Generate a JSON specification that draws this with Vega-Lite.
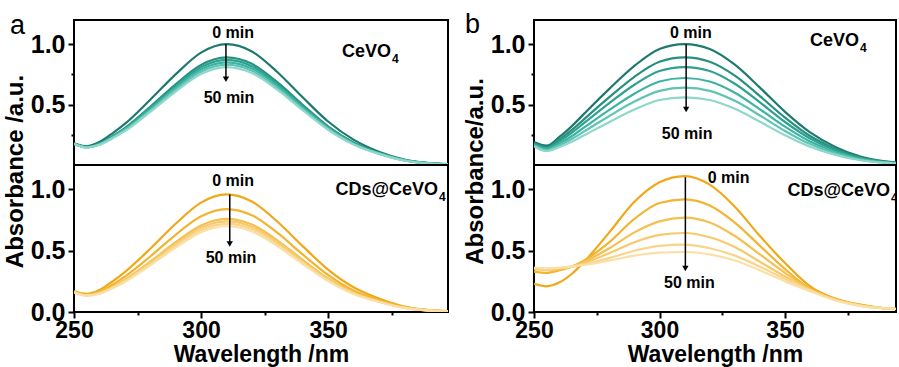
{
"$schema": "https://vega.github.io/schema/vega-lite/v6.json",
"padding": {"left": 2, "top": 10, "right": 0, "bottom": 0},
"config": {
 "font": "Liberation Sans",
 "view": {"stroke": "black", "strokeWidth": 2},
 "axis": {"labelFont": "Liberation Sans", "labelFontWeight": "bold", "labelFontSize": 24, "labelColor": "black", "titleFont": "Liberation Sans", "titleFontWeight": "bold", "titleFontSize": 24, "titleColor": "black", "tickColor": "black", "tickWidth": 2, "domain": false, "grid": false, "labelPadding": 3, "labelOverlap": false, "labelFlush": false},
 "axisY": {"labelFontSize": 25},
 "axisX": {"labelFontSize": 23, "titleFontSize": 23, "labelPadding": 1, "labelBaseline": "top"},
 "text": {"font": "Liberation Sans"}
},
"resolve": {"scale": {"color": "independent", "x": "independent", "y": "independent"}},
"datasets": {
"curves": [
{"p":"a","s":"C","t":0,"x":250,"y":0.18},{"p":"a","s":"C","t":0,"x":255,"y":0.155},{"p":"a","s":"C","t":0,"x":260,"y":0.19},{"p":"a","s":"C","t":0,"x":265,"y":0.26},{"p":"a","s":"C","t":0,"x":270,"y":0.34},{"p":"a","s":"C","t":0,"x":280,"y":0.54},{"p":"a","s":"C","t":0,"x":290,"y":0.75},{"p":"a","s":"C","t":0,"x":300,"y":0.93},{"p":"a","s":"C","t":0,"x":310,"y":1.0},{"p":"a","s":"C","t":0,"x":320,"y":0.94},{"p":"a","s":"C","t":0,"x":330,"y":0.77},{"p":"a","s":"C","t":0,"x":340,"y":0.56},{"p":"a","s":"C","t":0,"x":350,"y":0.36},{"p":"a","s":"C","t":0,"x":360,"y":0.21},{"p":"a","s":"C","t":0,"x":370,"y":0.11},{"p":"a","s":"C","t":0,"x":380,"y":0.045},{"p":"a","s":"C","t":0,"x":390,"y":0.015},{"p":"a","s":"C","t":0,"x":400,"y":0.005},
{"p":"a","s":"C","t":10,"x":250,"y":0.177},{"p":"a","s":"C","t":10,"x":255,"y":0.149},{"p":"a","s":"C","t":10,"x":260,"y":0.177},{"p":"a","s":"C","t":10,"x":265,"y":0.237},{"p":"a","s":"C","t":10,"x":270,"y":0.306},{"p":"a","s":"C","t":10,"x":280,"y":0.482},{"p":"a","s":"C","t":10,"x":290,"y":0.668},{"p":"a","s":"C","t":10,"x":300,"y":0.828},{"p":"a","s":"C","t":10,"x":310,"y":0.89},{"p":"a","s":"C","t":10,"x":320,"y":0.837},{"p":"a","s":"C","t":10,"x":330,"y":0.685},{"p":"a","s":"C","t":10,"x":340,"y":0.498},{"p":"a","s":"C","t":10,"x":350,"y":0.32},{"p":"a","s":"C","t":10,"x":360,"y":0.187},{"p":"a","s":"C","t":10,"x":370,"y":0.1},{"p":"a","s":"C","t":10,"x":380,"y":0.041},{"p":"a","s":"C","t":10,"x":390,"y":0.014},{"p":"a","s":"C","t":10,"x":400,"y":0.005},
{"p":"a","s":"C","t":20,"x":250,"y":0.176},{"p":"a","s":"C","t":20,"x":255,"y":0.148},{"p":"a","s":"C","t":20,"x":260,"y":0.174},{"p":"a","s":"C","t":20,"x":265,"y":0.233},{"p":"a","s":"C","t":20,"x":270,"y":0.3},{"p":"a","s":"C","t":20,"x":280,"y":0.472},{"p":"a","s":"C","t":20,"x":290,"y":0.653},{"p":"a","s":"C","t":20,"x":300,"y":0.809},{"p":"a","s":"C","t":20,"x":310,"y":0.87},{"p":"a","s":"C","t":20,"x":320,"y":0.818},{"p":"a","s":"C","t":20,"x":330,"y":0.67},{"p":"a","s":"C","t":20,"x":340,"y":0.487},{"p":"a","s":"C","t":20,"x":350,"y":0.313},{"p":"a","s":"C","t":20,"x":360,"y":0.183},{"p":"a","s":"C","t":20,"x":370,"y":0.098},{"p":"a","s":"C","t":20,"x":380,"y":0.04},{"p":"a","s":"C","t":20,"x":390,"y":0.013},{"p":"a","s":"C","t":20,"x":400,"y":0.005},
{"p":"a","s":"C","t":30,"x":250,"y":0.176},{"p":"a","s":"C","t":30,"x":255,"y":0.147},{"p":"a","s":"C","t":30,"x":260,"y":0.172},{"p":"a","s":"C","t":30,"x":265,"y":0.229},{"p":"a","s":"C","t":30,"x":270,"y":0.294},{"p":"a","s":"C","t":30,"x":280,"y":0.461},{"p":"a","s":"C","t":30,"x":290,"y":0.638},{"p":"a","s":"C","t":30,"x":300,"y":0.791},{"p":"a","s":"C","t":30,"x":310,"y":0.85},{"p":"a","s":"C","t":30,"x":320,"y":0.799},{"p":"a","s":"C","t":30,"x":330,"y":0.655},{"p":"a","s":"C","t":30,"x":340,"y":0.476},{"p":"a","s":"C","t":30,"x":350,"y":0.306},{"p":"a","s":"C","t":30,"x":360,"y":0.179},{"p":"a","s":"C","t":30,"x":370,"y":0.096},{"p":"a","s":"C","t":30,"x":380,"y":0.039},{"p":"a","s":"C","t":30,"x":390,"y":0.013},{"p":"a","s":"C","t":30,"x":400,"y":0.005},
{"p":"a","s":"C","t":40,"x":250,"y":0.175},{"p":"a","s":"C","t":40,"x":255,"y":0.146},{"p":"a","s":"C","t":40,"x":260,"y":0.17},{"p":"a","s":"C","t":40,"x":265,"y":0.224},{"p":"a","s":"C","t":40,"x":270,"y":0.287},{"p":"a","s":"C","t":40,"x":280,"y":0.451},{"p":"a","s":"C","t":40,"x":290,"y":0.623},{"p":"a","s":"C","t":40,"x":300,"y":0.772},{"p":"a","s":"C","t":40,"x":310,"y":0.83},{"p":"a","s":"C","t":40,"x":320,"y":0.78},{"p":"a","s":"C","t":40,"x":330,"y":0.639},{"p":"a","s":"C","t":40,"x":340,"y":0.465},{"p":"a","s":"C","t":40,"x":350,"y":0.299},{"p":"a","s":"C","t":40,"x":360,"y":0.174},{"p":"a","s":"C","t":40,"x":370,"y":0.094},{"p":"a","s":"C","t":40,"x":380,"y":0.038},{"p":"a","s":"C","t":40,"x":390,"y":0.013},{"p":"a","s":"C","t":40,"x":400,"y":0.005},
{"p":"a","s":"C","t":50,"x":250,"y":0.174},{"p":"a","s":"C","t":50,"x":255,"y":0.145},{"p":"a","s":"C","t":50,"x":260,"y":0.167},{"p":"a","s":"C","t":50,"x":265,"y":0.22},{"p":"a","s":"C","t":50,"x":270,"y":0.281},{"p":"a","s":"C","t":50,"x":280,"y":0.44},{"p":"a","s":"C","t":50,"x":290,"y":0.608},{"p":"a","s":"C","t":50,"x":300,"y":0.753},{"p":"a","s":"C","t":50,"x":310,"y":0.81},{"p":"a","s":"C","t":50,"x":320,"y":0.761},{"p":"a","s":"C","t":50,"x":330,"y":0.624},{"p":"a","s":"C","t":50,"x":340,"y":0.454},{"p":"a","s":"C","t":50,"x":350,"y":0.292},{"p":"a","s":"C","t":50,"x":360,"y":0.17},{"p":"a","s":"C","t":50,"x":370,"y":0.092},{"p":"a","s":"C","t":50,"x":380,"y":0.037},{"p":"a","s":"C","t":50,"x":390,"y":0.012},{"p":"a","s":"C","t":50,"x":400,"y":0.005},
{"p":"a","s":"D","t":0,"x":250,"y":0.169},{"p":"a","s":"D","t":0,"x":255,"y":0.148},{"p":"a","s":"D","t":0,"x":260,"y":0.18},{"p":"a","s":"D","t":0,"x":265,"y":0.247},{"p":"a","s":"D","t":0,"x":270,"y":0.326},{"p":"a","s":"D","t":0,"x":280,"y":0.516},{"p":"a","s":"D","t":0,"x":290,"y":0.72},{"p":"a","s":"D","t":0,"x":300,"y":0.893},{"p":"a","s":"D","t":0,"x":310,"y":0.96},{"p":"a","s":"D","t":0,"x":320,"y":0.902},{"p":"a","s":"D","t":0,"x":330,"y":0.739},{"p":"a","s":"D","t":0,"x":340,"y":0.538},{"p":"a","s":"D","t":0,"x":350,"y":0.346},{"p":"a","s":"D","t":0,"x":360,"y":0.202},{"p":"a","s":"D","t":0,"x":370,"y":0.11},{"p":"a","s":"D","t":0,"x":380,"y":0.045},{"p":"a","s":"D","t":0,"x":390,"y":0.015},{"p":"a","s":"D","t":0,"x":400,"y":0.005},
{"p":"a","s":"D","t":10,"x":250,"y":0.165},{"p":"a","s":"D","t":10,"x":255,"y":0.141},{"p":"a","s":"D","t":10,"x":260,"y":0.166},{"p":"a","s":"D","t":10,"x":265,"y":0.221},{"p":"a","s":"D","t":10,"x":270,"y":0.288},{"p":"a","s":"D","t":10,"x":280,"y":0.453},{"p":"a","s":"D","t":10,"x":290,"y":0.63},{"p":"a","s":"D","t":10,"x":300,"y":0.781},{"p":"a","s":"D","t":10,"x":310,"y":0.84},{"p":"a","s":"D","t":10,"x":320,"y":0.79},{"p":"a","s":"D","t":10,"x":330,"y":0.647},{"p":"a","s":"D","t":10,"x":340,"y":0.47},{"p":"a","s":"D","t":10,"x":350,"y":0.302},{"p":"a","s":"D","t":10,"x":360,"y":0.176},{"p":"a","s":"D","t":10,"x":370,"y":0.097},{"p":"a","s":"D","t":10,"x":380,"y":0.04},{"p":"a","s":"D","t":10,"x":390,"y":0.014},{"p":"a","s":"D","t":10,"x":400,"y":0.005},
{"p":"a","s":"D","t":20,"x":250,"y":0.163},{"p":"a","s":"D","t":20,"x":255,"y":0.137},{"p":"a","s":"D","t":20,"x":260,"y":0.156},{"p":"a","s":"D","t":20,"x":265,"y":0.205},{"p":"a","s":"D","t":20,"x":270,"y":0.264},{"p":"a","s":"D","t":20,"x":280,"y":0.411},{"p":"a","s":"D","t":20,"x":290,"y":0.57},{"p":"a","s":"D","t":20,"x":300,"y":0.707},{"p":"a","s":"D","t":20,"x":310,"y":0.76},{"p":"a","s":"D","t":20,"x":320,"y":0.714},{"p":"a","s":"D","t":20,"x":330,"y":0.585},{"p":"a","s":"D","t":20,"x":340,"y":0.426},{"p":"a","s":"D","t":20,"x":350,"y":0.274},{"p":"a","s":"D","t":20,"x":360,"y":0.16},{"p":"a","s":"D","t":20,"x":370,"y":0.088},{"p":"a","s":"D","t":20,"x":380,"y":0.036},{"p":"a","s":"D","t":20,"x":390,"y":0.013},{"p":"a","s":"D","t":20,"x":400,"y":0.005},
{"p":"a","s":"D","t":30,"x":250,"y":0.162},{"p":"a","s":"D","t":30,"x":255,"y":0.136},{"p":"a","s":"D","t":30,"x":260,"y":0.154},{"p":"a","s":"D","t":30,"x":265,"y":0.2},{"p":"a","s":"D","t":30,"x":270,"y":0.257},{"p":"a","s":"D","t":30,"x":280,"y":0.401},{"p":"a","s":"D","t":30,"x":290,"y":0.555},{"p":"a","s":"D","t":30,"x":300,"y":0.688},{"p":"a","s":"D","t":30,"x":310,"y":0.74},{"p":"a","s":"D","t":30,"x":320,"y":0.696},{"p":"a","s":"D","t":30,"x":330,"y":0.57},{"p":"a","s":"D","t":30,"x":340,"y":0.414},{"p":"a","s":"D","t":30,"x":350,"y":0.266},{"p":"a","s":"D","t":30,"x":360,"y":0.155},{"p":"a","s":"D","t":30,"x":370,"y":0.086},{"p":"a","s":"D","t":30,"x":380,"y":0.035},{"p":"a","s":"D","t":30,"x":390,"y":0.012},{"p":"a","s":"D","t":30,"x":400,"y":0.005},
{"p":"a","s":"D","t":40,"x":250,"y":0.162},{"p":"a","s":"D","t":40,"x":255,"y":0.135},{"p":"a","s":"D","t":40,"x":260,"y":0.151},{"p":"a","s":"D","t":40,"x":265,"y":0.196},{"p":"a","s":"D","t":40,"x":270,"y":0.251},{"p":"a","s":"D","t":40,"x":280,"y":0.39},{"p":"a","s":"D","t":40,"x":290,"y":0.54},{"p":"a","s":"D","t":40,"x":300,"y":0.67},{"p":"a","s":"D","t":40,"x":310,"y":0.72},{"p":"a","s":"D","t":40,"x":320,"y":0.677},{"p":"a","s":"D","t":40,"x":330,"y":0.554},{"p":"a","s":"D","t":40,"x":340,"y":0.403},{"p":"a","s":"D","t":40,"x":350,"y":0.259},{"p":"a","s":"D","t":40,"x":360,"y":0.151},{"p":"a","s":"D","t":40,"x":370,"y":0.084},{"p":"a","s":"D","t":40,"x":380,"y":0.034},{"p":"a","s":"D","t":40,"x":390,"y":0.012},{"p":"a","s":"D","t":40,"x":400,"y":0.005},
{"p":"a","s":"D","t":50,"x":250,"y":0.161},{"p":"a","s":"D","t":50,"x":255,"y":0.134},{"p":"a","s":"D","t":50,"x":260,"y":0.149},{"p":"a","s":"D","t":50,"x":265,"y":0.192},{"p":"a","s":"D","t":50,"x":270,"y":0.245},{"p":"a","s":"D","t":50,"x":280,"y":0.38},{"p":"a","s":"D","t":50,"x":290,"y":0.525},{"p":"a","s":"D","t":50,"x":300,"y":0.651},{"p":"a","s":"D","t":50,"x":310,"y":0.7},{"p":"a","s":"D","t":50,"x":320,"y":0.658},{"p":"a","s":"D","t":50,"x":330,"y":0.539},{"p":"a","s":"D","t":50,"x":340,"y":0.392},{"p":"a","s":"D","t":50,"x":350,"y":0.252},{"p":"a","s":"D","t":50,"x":360,"y":0.147},{"p":"a","s":"D","t":50,"x":370,"y":0.082},{"p":"a","s":"D","t":50,"x":380,"y":0.033},{"p":"a","s":"D","t":50,"x":390,"y":0.012},{"p":"a","s":"D","t":50,"x":400,"y":0.005},
{"p":"b","s":"C","t":0,"x":250,"y":0.19},{"p":"b","s":"C","t":0,"x":255,"y":0.16},{"p":"b","s":"C","t":0,"x":260,"y":0.23},{"p":"b","s":"C","t":0,"x":265,"y":0.32},{"p":"b","s":"C","t":0,"x":270,"y":0.425},{"p":"b","s":"C","t":0,"x":280,"y":0.63},{"p":"b","s":"C","t":0,"x":290,"y":0.82},{"p":"b","s":"C","t":0,"x":300,"y":0.96},{"p":"b","s":"C","t":0,"x":310,"y":1.0},{"p":"b","s":"C","t":0,"x":320,"y":0.96},{"p":"b","s":"C","t":0,"x":330,"y":0.83},{"p":"b","s":"C","t":0,"x":340,"y":0.64},{"p":"b","s":"C","t":0,"x":350,"y":0.44},{"p":"b","s":"C","t":0,"x":360,"y":0.27},{"p":"b","s":"C","t":0,"x":370,"y":0.15},{"p":"b","s":"C","t":0,"x":380,"y":0.07},{"p":"b","s":"C","t":0,"x":390,"y":0.03},{"p":"b","s":"C","t":0,"x":400,"y":0.012},
{"p":"b","s":"C","t":10,"x":250,"y":0.181},{"p":"b","s":"C","t":10,"x":255,"y":0.149},{"p":"b","s":"C","t":10,"x":260,"y":0.209},{"p":"b","s":"C","t":10,"x":265,"y":0.288},{"p":"b","s":"C","t":10,"x":270,"y":0.38},{"p":"b","s":"C","t":10,"x":280,"y":0.561},{"p":"b","s":"C","t":10,"x":290,"y":0.73},{"p":"b","s":"C","t":10,"x":300,"y":0.854},{"p":"b","s":"C","t":10,"x":310,"y":0.89},{"p":"b","s":"C","t":10,"x":320,"y":0.854},{"p":"b","s":"C","t":10,"x":330,"y":0.739},{"p":"b","s":"C","t":10,"x":340,"y":0.57},{"p":"b","s":"C","t":10,"x":350,"y":0.392},{"p":"b","s":"C","t":10,"x":360,"y":0.24},{"p":"b","s":"C","t":10,"x":370,"y":0.134},{"p":"b","s":"C","t":10,"x":380,"y":0.062},{"p":"b","s":"C","t":10,"x":390,"y":0.027},{"p":"b","s":"C","t":10,"x":400,"y":0.011},
{"p":"b","s":"C","t":20,"x":250,"y":0.174},{"p":"b","s":"C","t":20,"x":255,"y":0.14},{"p":"b","s":"C","t":20,"x":260,"y":0.194},{"p":"b","s":"C","t":20,"x":265,"y":0.265},{"p":"b","s":"C","t":20,"x":270,"y":0.348},{"p":"b","s":"C","t":20,"x":280,"y":0.512},{"p":"b","s":"C","t":20,"x":290,"y":0.664},{"p":"b","s":"C","t":20,"x":300,"y":0.778},{"p":"b","s":"C","t":20,"x":310,"y":0.81},{"p":"b","s":"C","t":20,"x":320,"y":0.778},{"p":"b","s":"C","t":20,"x":330,"y":0.672},{"p":"b","s":"C","t":20,"x":340,"y":0.518},{"p":"b","s":"C","t":20,"x":350,"y":0.356},{"p":"b","s":"C","t":20,"x":360,"y":0.219},{"p":"b","s":"C","t":20,"x":370,"y":0.122},{"p":"b","s":"C","t":20,"x":380,"y":0.057},{"p":"b","s":"C","t":20,"x":390,"y":0.024},{"p":"b","s":"C","t":20,"x":400,"y":0.01},
{"p":"b","s":"C","t":30,"x":250,"y":0.166},{"p":"b","s":"C","t":30,"x":255,"y":0.131},{"p":"b","s":"C","t":30,"x":260,"y":0.177},{"p":"b","s":"C","t":30,"x":265,"y":0.238},{"p":"b","s":"C","t":30,"x":270,"y":0.311},{"p":"b","s":"C","t":30,"x":280,"y":0.456},{"p":"b","s":"C","t":30,"x":290,"y":0.59},{"p":"b","s":"C","t":30,"x":300,"y":0.691},{"p":"b","s":"C","t":30,"x":310,"y":0.72},{"p":"b","s":"C","t":30,"x":320,"y":0.691},{"p":"b","s":"C","t":30,"x":330,"y":0.598},{"p":"b","s":"C","t":30,"x":340,"y":0.461},{"p":"b","s":"C","t":30,"x":350,"y":0.317},{"p":"b","s":"C","t":30,"x":360,"y":0.194},{"p":"b","s":"C","t":30,"x":370,"y":0.108},{"p":"b","s":"C","t":30,"x":380,"y":0.05},{"p":"b","s":"C","t":30,"x":390,"y":0.022},{"p":"b","s":"C","t":30,"x":400,"y":0.009},
{"p":"b","s":"C","t":40,"x":250,"y":0.159},{"p":"b","s":"C","t":40,"x":255,"y":0.123},{"p":"b","s":"C","t":40,"x":260,"y":0.162},{"p":"b","s":"C","t":40,"x":265,"y":0.215},{"p":"b","s":"C","t":40,"x":270,"y":0.278},{"p":"b","s":"C","t":40,"x":280,"y":0.406},{"p":"b","s":"C","t":40,"x":290,"y":0.525},{"p":"b","s":"C","t":40,"x":300,"y":0.614},{"p":"b","s":"C","t":40,"x":310,"y":0.64},{"p":"b","s":"C","t":40,"x":320,"y":0.614},{"p":"b","s":"C","t":40,"x":330,"y":0.531},{"p":"b","s":"C","t":40,"x":340,"y":0.41},{"p":"b","s":"C","t":40,"x":350,"y":0.282},{"p":"b","s":"C","t":40,"x":360,"y":0.173},{"p":"b","s":"C","t":40,"x":370,"y":0.096},{"p":"b","s":"C","t":40,"x":380,"y":0.045},{"p":"b","s":"C","t":40,"x":390,"y":0.019},{"p":"b","s":"C","t":40,"x":400,"y":0.008},
{"p":"b","s":"C","t":50,"x":250,"y":0.153},{"p":"b","s":"C","t":50,"x":255,"y":0.114},{"p":"b","s":"C","t":50,"x":260,"y":0.147},{"p":"b","s":"C","t":50,"x":265,"y":0.192},{"p":"b","s":"C","t":50,"x":270,"y":0.246},{"p":"b","s":"C","t":50,"x":280,"y":0.356},{"p":"b","s":"C","t":50,"x":290,"y":0.459},{"p":"b","s":"C","t":50,"x":300,"y":0.538},{"p":"b","s":"C","t":50,"x":310,"y":0.56},{"p":"b","s":"C","t":50,"x":320,"y":0.538},{"p":"b","s":"C","t":50,"x":330,"y":0.465},{"p":"b","s":"C","t":50,"x":340,"y":0.358},{"p":"b","s":"C","t":50,"x":350,"y":0.246},{"p":"b","s":"C","t":50,"x":360,"y":0.151},{"p":"b","s":"C","t":50,"x":370,"y":0.084},{"p":"b","s":"C","t":50,"x":380,"y":0.039},{"p":"b","s":"C","t":50,"x":390,"y":0.017},{"p":"b","s":"C","t":50,"x":400,"y":0.007},
{"p":"b","s":"D","t":0,"x":250,"y":0.23},{"p":"b","s":"D","t":0,"x":255,"y":0.21},{"p":"b","s":"D","t":0,"x":260,"y":0.24},{"p":"b","s":"D","t":0,"x":265,"y":0.31},{"p":"b","s":"D","t":0,"x":270,"y":0.41},{"p":"b","s":"D","t":0,"x":280,"y":0.65},{"p":"b","s":"D","t":0,"x":290,"y":0.9},{"p":"b","s":"D","t":0,"x":300,"y":1.06},{"p":"b","s":"D","t":0,"x":310,"y":1.11},{"p":"b","s":"D","t":0,"x":320,"y":1.04},{"p":"b","s":"D","t":0,"x":330,"y":0.86},{"p":"b","s":"D","t":0,"x":340,"y":0.62},{"p":"b","s":"D","t":0,"x":350,"y":0.4},{"p":"b","s":"D","t":0,"x":360,"y":0.21},{"p":"b","s":"D","t":0,"x":370,"y":0.11},{"p":"b","s":"D","t":0,"x":380,"y":0.06},{"p":"b","s":"D","t":0,"x":390,"y":0.03},{"p":"b","s":"D","t":0,"x":400,"y":0.02},
{"p":"b","s":"D","t":10,"x":250,"y":0.33},{"p":"b","s":"D","t":10,"x":255,"y":0.32},{"p":"b","s":"D","t":10,"x":260,"y":0.34},{"p":"b","s":"D","t":10,"x":265,"y":0.37},{"p":"b","s":"D","t":10,"x":270,"y":0.42},{"p":"b","s":"D","t":10,"x":280,"y":0.57},{"p":"b","s":"D","t":10,"x":290,"y":0.76},{"p":"b","s":"D","t":10,"x":300,"y":0.89},{"p":"b","s":"D","t":10,"x":310,"y":0.92},{"p":"b","s":"D","t":10,"x":320,"y":0.87},{"p":"b","s":"D","t":10,"x":330,"y":0.73},{"p":"b","s":"D","t":10,"x":340,"y":0.54},{"p":"b","s":"D","t":10,"x":350,"y":0.35},{"p":"b","s":"D","t":10,"x":360,"y":0.19},{"p":"b","s":"D","t":10,"x":370,"y":0.105},{"p":"b","s":"D","t":10,"x":380,"y":0.055},{"p":"b","s":"D","t":10,"x":390,"y":0.03},{"p":"b","s":"D","t":10,"x":400,"y":0.02},
{"p":"b","s":"D","t":20,"x":250,"y":0.35},{"p":"b","s":"D","t":20,"x":255,"y":0.345},{"p":"b","s":"D","t":20,"x":260,"y":0.35},{"p":"b","s":"D","t":20,"x":265,"y":0.37},{"p":"b","s":"D","t":20,"x":270,"y":0.41},{"p":"b","s":"D","t":20,"x":280,"y":0.52},{"p":"b","s":"D","t":20,"x":290,"y":0.65},{"p":"b","s":"D","t":20,"x":300,"y":0.74},{"p":"b","s":"D","t":20,"x":310,"y":0.77},{"p":"b","s":"D","t":20,"x":320,"y":0.73},{"p":"b","s":"D","t":20,"x":330,"y":0.62},{"p":"b","s":"D","t":20,"x":340,"y":0.47},{"p":"b","s":"D","t":20,"x":350,"y":0.32},{"p":"b","s":"D","t":20,"x":360,"y":0.185},{"p":"b","s":"D","t":20,"x":370,"y":0.1},{"p":"b","s":"D","t":20,"x":380,"y":0.055},{"p":"b","s":"D","t":20,"x":390,"y":0.03},{"p":"b","s":"D","t":20,"x":400,"y":0.02},
{"p":"b","s":"D","t":30,"x":250,"y":0.355},{"p":"b","s":"D","t":30,"x":255,"y":0.35},{"p":"b","s":"D","t":30,"x":260,"y":0.355},{"p":"b","s":"D","t":30,"x":265,"y":0.37},{"p":"b","s":"D","t":30,"x":270,"y":0.4},{"p":"b","s":"D","t":30,"x":280,"y":0.48},{"p":"b","s":"D","t":30,"x":290,"y":0.57},{"p":"b","s":"D","t":30,"x":300,"y":0.63},{"p":"b","s":"D","t":30,"x":310,"y":0.645},{"p":"b","s":"D","t":30,"x":320,"y":0.61},{"p":"b","s":"D","t":30,"x":330,"y":0.53},{"p":"b","s":"D","t":30,"x":340,"y":0.41},{"p":"b","s":"D","t":30,"x":350,"y":0.29},{"p":"b","s":"D","t":30,"x":360,"y":0.18},{"p":"b","s":"D","t":30,"x":370,"y":0.1},{"p":"b","s":"D","t":30,"x":380,"y":0.055},{"p":"b","s":"D","t":30,"x":390,"y":0.03},{"p":"b","s":"D","t":30,"x":400,"y":0.02},
{"p":"b","s":"D","t":40,"x":250,"y":0.36},{"p":"b","s":"D","t":40,"x":255,"y":0.355},{"p":"b","s":"D","t":40,"x":260,"y":0.36},{"p":"b","s":"D","t":40,"x":265,"y":0.37},{"p":"b","s":"D","t":40,"x":270,"y":0.39},{"p":"b","s":"D","t":40,"x":280,"y":0.44},{"p":"b","s":"D","t":40,"x":290,"y":0.5},{"p":"b","s":"D","t":40,"x":300,"y":0.54},{"p":"b","s":"D","t":40,"x":310,"y":0.55},{"p":"b","s":"D","t":40,"x":320,"y":0.52},{"p":"b","s":"D","t":40,"x":330,"y":0.46},{"p":"b","s":"D","t":40,"x":340,"y":0.37},{"p":"b","s":"D","t":40,"x":350,"y":0.27},{"p":"b","s":"D","t":40,"x":360,"y":0.175},{"p":"b","s":"D","t":40,"x":370,"y":0.1},{"p":"b","s":"D","t":40,"x":380,"y":0.05},{"p":"b","s":"D","t":40,"x":390,"y":0.03},{"p":"b","s":"D","t":40,"x":400,"y":0.02},
{"p":"b","s":"D","t":50,"x":250,"y":0.36},{"p":"b","s":"D","t":50,"x":255,"y":0.355},{"p":"b","s":"D","t":50,"x":260,"y":0.36},{"p":"b","s":"D","t":50,"x":265,"y":0.37},{"p":"b","s":"D","t":50,"x":270,"y":0.385},{"p":"b","s":"D","t":50,"x":280,"y":0.42},{"p":"b","s":"D","t":50,"x":290,"y":0.46},{"p":"b","s":"D","t":50,"x":300,"y":0.485},{"p":"b","s":"D","t":50,"x":310,"y":0.49},{"p":"b","s":"D","t":50,"x":320,"y":0.47},{"p":"b","s":"D","t":50,"x":330,"y":0.42},{"p":"b","s":"D","t":50,"x":340,"y":0.34},{"p":"b","s":"D","t":50,"x":350,"y":0.25},{"p":"b","s":"D","t":50,"x":360,"y":0.17},{"p":"b","s":"D","t":50,"x":370,"y":0.095},{"p":"b","s":"D","t":50,"x":380,"y":0.05},{"p":"b","s":"D","t":50,"x":390,"y":0.03},{"p":"b","s":"D","t":50,"x":400,"y":0.02}
],
"arrows": [
{"p":"a","s":"C","x":309.8,"y":1.0,"yend":0.71},
{"p":"a","s":"D","x":311.3,"y":0.96,"yend":0.555},
{"p":"b","s":"C","x":310.6,"y":1.0,"yend":0.46},
{"p":"b","s":"D","x":310.3,"y":1.1,"yend":0.355}
],
"times": [
{"p":"a","s":"C","x":312.6,"y":1.09,"label":"0 min"},{"p":"a","s":"C","x":311,"y":0.553,"label":"50 min"},
{"p":"a","s":"D","x":312.6,"y":1.068,"label":"0 min"},{"p":"a","s":"D","x":311.8,"y":0.44,"label":"50 min"},
{"p":"b","s":"C","x":312.5,"y":1.09,"label":"0 min"},{"p":"b","s":"C","x":311,"y":0.26,"label":"50 min"},
{"p":"b","s":"D","x":327.5,"y":1.096,"label":"0 min"},{"p":"b","s":"D","x":311.9,"y":0.235,"label":"50 min"}
],
"names": [
{"p":"a","s":"C","x":374.8,"y":0.933,"label":"CeVO","sub":"4"},
{"p":"a","s":"D","x":393.3,"y":0.996,"label":"CDs@CeVO","sub":"4"},
{"p":"b","s":"C","x":379.5,"y":1.025,"label":"CeVO","sub":"4"},
{"p":"b","s":"D","x":391.8,"y":0.988,"label":"CDs@CeVO","sub":"4"}
]
},
"columns": 2,
"spacing": {"row": 0, "column": 86},
"bounds": "flush",
"concat": [
{
 "width": 374, "height": 145,
 "title": {"text": "a", "anchor": "start", "frame": "group", "offset": 0, "dx": -64, "dy": 41, "baseline": "alphabetic", "fontSize": 27, "fontWeight": "normal", "font": "Liberation Sans", "color": "black"},
 "layer": [
  {"data": {"name": "curves"}, "transform": [{"filter": "datum.p === 'a' && datum.s === 'C'"}],
   "mark": {"type": "line", "interpolate": "monotone", "strokeWidth": 2.2, "clip": true},
   "encoding": {
    "x": {"field": "x", "type": "quantitative", "scale": {"domain": [250, 397.2], "nice": false, "zero": false}, "axis": null},
    "y": {"field": "y", "type": "quantitative", "scale": {"domain": [0, 1.2], "nice": false}, "axis": {"title": "Absorbance /a.u.", "titleY": 151, "titlePadding": 3, "values": [0.25, 0.5, 0.75, 1], "labelExpr": "datum.value === 0.5 || datum.value === 1 ? format(datum.value, '.1f') : ''", "tickSize": {"condition": {"test": "datum.value === 0.5 || datum.value === 1", "value": 6}, "value": 3}}},
    "color": {"field": "t", "type": "ordinal", "scale": {"domain": [0, 10, 20, 30, 40, 50], "range": ["#1e7a6e", "#27907f", "#2fa190", "#3db3a1", "#60c4b4", "#8ed7ca"]}, "legend": null}
   }},
  {"data": {"name": "arrows"}, "transform": [{"filter": "datum.p === 'a' && datum.s === 'C'"}],
   "mark": {"type": "rule", "strokeWidth": 1.5, "color": "black"},
   "encoding": {"x": {"field": "x", "type": "quantitative"}, "y": {"field": "y", "type": "quantitative"}, "y2": {"field": "yend"}}},
  {"data": {"name": "arrows"}, "transform": [{"filter": "datum.p === 'a' && datum.s === 'C'"}],
   "mark": {"type": "point", "shape": "triangle-down", "filled": true, "color": "black", "opacity": 1, "size": 40},
   "encoding": {"x": {"field": "x", "type": "quantitative"}, "y": {"field": "yend", "type": "quantitative"}}},
  {"data": {"name": "times"}, "transform": [{"filter": "datum.p === 'a' && datum.s === 'C'"}],
   "mark": {"type": "text", "fontSize": 16, "fontWeight": "bold", "color": "black", "font": "Liberation Sans"},
   "encoding": {"x": {"field": "x", "type": "quantitative"}, "y": {"field": "y", "type": "quantitative"}, "text": {"field": "label"}}},
  {"data": {"name": "names"}, "transform": [{"filter": "datum.p === 'a' && datum.s === 'C'"}],
   "mark": {"type": "text", "align": "right", "fontSize": 18, "fontWeight": "bold", "color": "black", "font": "Liberation Sans"},
   "encoding": {"x": {"field": "x", "type": "quantitative"}, "y": {"field": "y", "type": "quantitative"}, "text": {"field": "label"}}},
  {"data": {"name": "names"}, "transform": [{"filter": "datum.p === 'a' && datum.s === 'C'"}],
   "mark": {"type": "text", "align": "left", "dx": 1, "dy": 7, "fontSize": 12, "fontWeight": "bold", "color": "black", "font": "Liberation Sans", "clip": true},
   "encoding": {"x": {"field": "x", "type": "quantitative"}, "y": {"field": "y", "type": "quantitative"}, "text": {"field": "sub"}}}
 ]
},
{
 "width": 362, "height": 145,
 "title": {"text": "b", "anchor": "start", "frame": "group", "offset": 0, "dx": -69, "dy": 40, "baseline": "alphabetic", "fontSize": 27, "fontWeight": "normal", "font": "Liberation Sans", "color": "black"},
 "layer": [
  {"data": {"name": "curves"}, "transform": [{"filter": "datum.p === 'b' && datum.s === 'C'"}],
   "mark": {"type": "line", "interpolate": "monotone", "strokeWidth": 2.2, "clip": true},
   "encoding": {
    "x": {"field": "x", "type": "quantitative", "scale": {"domain": [250, 394.2], "nice": false, "zero": false}, "axis": null},
    "y": {"field": "y", "type": "quantitative", "scale": {"domain": [0, 1.2], "nice": false}, "axis": {"title": "Absorbance/a.u.", "titleY": 151, "titlePadding": 3, "values": [0.25, 0.5, 0.75, 1], "labelExpr": "datum.value === 0.5 || datum.value === 1 ? format(datum.value, '.1f') : ''", "tickSize": {"condition": {"test": "datum.value === 0.5 || datum.value === 1", "value": 6}, "value": 3}}},
    "color": {"field": "t", "type": "ordinal", "scale": {"domain": [0, 10, 20, 30, 40, 50], "range": ["#1e7a6e", "#27907f", "#2fa190", "#3db3a1", "#60c4b4", "#8ed7ca"]}, "legend": null}
   }},
  {"data": {"name": "arrows"}, "transform": [{"filter": "datum.p === 'b' && datum.s === 'C'"}],
   "mark": {"type": "rule", "strokeWidth": 1.5, "color": "black"},
   "encoding": {"x": {"field": "x", "type": "quantitative"}, "y": {"field": "y", "type": "quantitative"}, "y2": {"field": "yend"}}},
  {"data": {"name": "arrows"}, "transform": [{"filter": "datum.p === 'b' && datum.s === 'C'"}],
   "mark": {"type": "point", "shape": "triangle-down", "filled": true, "color": "black", "opacity": 1, "size": 40},
   "encoding": {"x": {"field": "x", "type": "quantitative"}, "y": {"field": "yend", "type": "quantitative"}}},
  {"data": {"name": "times"}, "transform": [{"filter": "datum.p === 'b' && datum.s === 'C'"}],
   "mark": {"type": "text", "fontSize": 16, "fontWeight": "bold", "color": "black", "font": "Liberation Sans"},
   "encoding": {"x": {"field": "x", "type": "quantitative"}, "y": {"field": "y", "type": "quantitative"}, "text": {"field": "label"}}},
  {"data": {"name": "names"}, "transform": [{"filter": "datum.p === 'b' && datum.s === 'C'"}],
   "mark": {"type": "text", "align": "right", "fontSize": 18, "fontWeight": "bold", "color": "black", "font": "Liberation Sans"},
   "encoding": {"x": {"field": "x", "type": "quantitative"}, "y": {"field": "y", "type": "quantitative"}, "text": {"field": "label"}}},
  {"data": {"name": "names"}, "transform": [{"filter": "datum.p === 'b' && datum.s === 'C'"}],
   "mark": {"type": "text", "align": "left", "dx": 1, "dy": 7, "fontSize": 12, "fontWeight": "bold", "color": "black", "font": "Liberation Sans", "clip": true},
   "encoding": {"x": {"field": "x", "type": "quantitative"}, "y": {"field": "y", "type": "quantitative"}, "text": {"field": "sub"}}}
 ]
},
{
 "width": 374, "height": 147,
 "layer": [
  {"data": {"name": "curves"}, "transform": [{"filter": "datum.p === 'a' && datum.s === 'D'"}],
   "mark": {"type": "line", "interpolate": "monotone", "strokeWidth": 2.2, "clip": true},
   "encoding": {
    "x": {"field": "x", "type": "quantitative", "scale": {"domain": [250, 397.2], "nice": false, "zero": false}, "axis": {"title": "Wavelength /nm", "titlePadding": 1, "values": [250, 275, 300, 325, 350, 375], "format": "d", "labelExpr": "datum.value % 50 === 0 ? datum.label : ''", "tickSize": {"condition": {"test": "datum.value % 50 === 0", "value": 6}, "value": 3}}},
    "y": {"field": "y", "type": "quantitative", "scale": {"domain": [0, 1.2], "nice": false}, "axis": {"title": null, "values": [0, 0.25, 0.5, 0.75, 1], "labelExpr": "datum.value === 0 || datum.value === 0.5 || datum.value === 1 ? format(datum.value, '.1f') : ''", "tickSize": {"condition": {"test": "datum.value === 0 || datum.value === 0.5 || datum.value === 1", "value": 6}, "value": 3}}},
    "color": {"field": "t", "type": "ordinal", "scale": {"domain": [0, 10, 20, 30, 40, 50], "range": ["#f0a818", "#f2b530", "#f4c050", "#f6ca6c", "#f8d58a", "#fadfa6"]}, "legend": null}
   }},
  {"data": {"name": "arrows"}, "transform": [{"filter": "datum.p === 'a' && datum.s === 'D'"}],
   "mark": {"type": "rule", "strokeWidth": 1.5, "color": "black"},
   "encoding": {"x": {"field": "x", "type": "quantitative"}, "y": {"field": "y", "type": "quantitative"}, "y2": {"field": "yend"}}},
  {"data": {"name": "arrows"}, "transform": [{"filter": "datum.p === 'a' && datum.s === 'D'"}],
   "mark": {"type": "point", "shape": "triangle-down", "filled": true, "color": "black", "opacity": 1, "size": 40},
   "encoding": {"x": {"field": "x", "type": "quantitative"}, "y": {"field": "yend", "type": "quantitative"}}},
  {"data": {"name": "times"}, "transform": [{"filter": "datum.p === 'a' && datum.s === 'D'"}],
   "mark": {"type": "text", "fontSize": 16, "fontWeight": "bold", "color": "black", "font": "Liberation Sans"},
   "encoding": {"x": {"field": "x", "type": "quantitative"}, "y": {"field": "y", "type": "quantitative"}, "text": {"field": "label"}}},
  {"data": {"name": "names"}, "transform": [{"filter": "datum.p === 'a' && datum.s === 'D'"}],
   "mark": {"type": "text", "align": "right", "fontSize": 18, "fontWeight": "bold", "color": "black", "font": "Liberation Sans"},
   "encoding": {"x": {"field": "x", "type": "quantitative"}, "y": {"field": "y", "type": "quantitative"}, "text": {"field": "label"}}},
  {"data": {"name": "names"}, "transform": [{"filter": "datum.p === 'a' && datum.s === 'D'"}],
   "mark": {"type": "text", "align": "left", "dx": 1, "dy": 7, "fontSize": 12, "fontWeight": "bold", "color": "black", "font": "Liberation Sans", "clip": true},
   "encoding": {"x": {"field": "x", "type": "quantitative"}, "y": {"field": "y", "type": "quantitative"}, "text": {"field": "sub"}}}
 ]
},
{
 "width": 362, "height": 147,
 "layer": [
  {"data": {"name": "curves"}, "transform": [{"filter": "datum.p === 'b' && datum.s === 'D'"}],
   "mark": {"type": "line", "interpolate": "monotone", "strokeWidth": 2.2, "clip": true},
   "encoding": {
    "x": {"field": "x", "type": "quantitative", "scale": {"domain": [250, 394.2], "nice": false, "zero": false}, "axis": {"title": "Wavelength /nm", "titlePadding": 1, "values": [250, 275, 300, 325, 350, 375], "format": "d", "labelExpr": "datum.value % 50 === 0 ? datum.label : ''", "tickSize": {"condition": {"test": "datum.value % 50 === 0", "value": 6}, "value": 3}}},
    "y": {"field": "y", "type": "quantitative", "scale": {"domain": [0, 1.2], "nice": false}, "axis": {"title": null, "values": [0, 0.25, 0.5, 0.75, 1], "labelExpr": "datum.value === 0 || datum.value === 0.5 || datum.value === 1 ? format(datum.value, '.1f') : ''", "tickSize": {"condition": {"test": "datum.value === 0 || datum.value === 0.5 || datum.value === 1", "value": 6}, "value": 3}}},
    "color": {"field": "t", "type": "ordinal", "scale": {"domain": [0, 10, 20, 30, 40, 50], "range": ["#f0a818", "#f2b530", "#f4c050", "#f6ca6c", "#f8d58a", "#fadfa6"]}, "legend": null}
   }},
  {"data": {"name": "arrows"}, "transform": [{"filter": "datum.p === 'b' && datum.s === 'D'"}],
   "mark": {"type": "rule", "strokeWidth": 1.5, "color": "black"},
   "encoding": {"x": {"field": "x", "type": "quantitative"}, "y": {"field": "y", "type": "quantitative"}, "y2": {"field": "yend"}}},
  {"data": {"name": "arrows"}, "transform": [{"filter": "datum.p === 'b' && datum.s === 'D'"}],
   "mark": {"type": "point", "shape": "triangle-down", "filled": true, "color": "black", "opacity": 1, "size": 40},
   "encoding": {"x": {"field": "x", "type": "quantitative"}, "y": {"field": "yend", "type": "quantitative"}}},
  {"data": {"name": "times"}, "transform": [{"filter": "datum.p === 'b' && datum.s === 'D'"}],
   "mark": {"type": "text", "fontSize": 16, "fontWeight": "bold", "color": "black", "font": "Liberation Sans"},
   "encoding": {"x": {"field": "x", "type": "quantitative"}, "y": {"field": "y", "type": "quantitative"}, "text": {"field": "label"}}},
  {"data": {"name": "names"}, "transform": [{"filter": "datum.p === 'b' && datum.s === 'D'"}],
   "mark": {"type": "text", "align": "right", "fontSize": 18, "fontWeight": "bold", "color": "black", "font": "Liberation Sans"},
   "encoding": {"x": {"field": "x", "type": "quantitative"}, "y": {"field": "y", "type": "quantitative"}, "text": {"field": "label"}}},
  {"data": {"name": "names"}, "transform": [{"filter": "datum.p === 'b' && datum.s === 'D'"}],
   "mark": {"type": "text", "align": "left", "dx": 1, "dy": 7, "fontSize": 12, "fontWeight": "bold", "color": "black", "font": "Liberation Sans", "clip": true},
   "encoding": {"x": {"field": "x", "type": "quantitative"}, "y": {"field": "y", "type": "quantitative"}, "text": {"field": "sub"}}}
 ]
}
]
}
